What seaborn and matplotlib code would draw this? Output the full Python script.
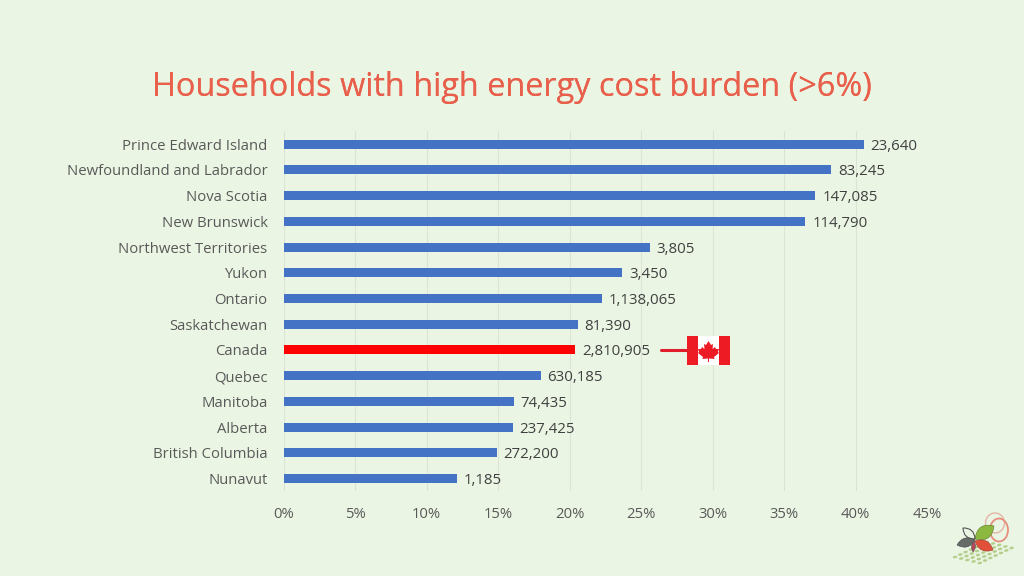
import matplotlib
matplotlib.use("Agg")
import matplotlib.pyplot as plt
from matplotlib.patches import Ellipse, PathPatch, Polygon, Rectangle
from matplotlib.path import Path
import numpy as np
import pandas as pd
import seaborn as sns

provinces = ["Prince Edward Island", "Newfoundland and Labrador", "Nova Scotia", "New Brunswick",
             "Northwest Territories", "Yukon", "Ontario", "Saskatchewan", "Canada", "Quebec",
             "Manitoba", "Alberta", "British Columbia", "Nunavut"]
share = [40.6, 38.3, 37.2, 36.5, 25.6, 23.7, 22.3, 20.6, 20.4, 18.0, 16.1, 16.05, 14.9, 12.1]
households = ["23,640", "83,245", "147,085", "114,790", "3,805", "3,450", "1,138,065", "81,390",
              "2,810,905", "630,185", "74,435", "237,425", "272,200", "1,185"]
xticks = [0, 5, 10, 15, 20, 25, 30, 35, 40, 45]

BG = "#EBF5E4"
W, H = 1024, 576

sns.set_theme(style="white")
plt.rcParams["font.family"] = ["Open Sans", "DejaVu Sans"]

df = pd.DataFrame({"province": provinces, "share": share})
colors = {p: "#FF0000" if p == "Canada" else "#4472C4" for p in provinces}

fig = plt.figure(figsize=(10.24, 5.76), dpi=100, facecolor=BG)
ax = fig.add_axes([283.5 / W, 1 - 491.3 / H, (927 - 283.5) / W, 360 / H], facecolor=BG)

sns.barplot(data=df, y="province", x="share", hue="province", palette=colors,
            width=0.35, legend=False, saturation=1, linewidth=0, ax=ax, zorder=3)

ax.set_xlim(0, 45)
ax.set_xticks(xticks)
ax.set_xticklabels([f"{t}%" for t in xticks])
ax.set_xlabel("")
ax.set_ylabel("")
ax.grid(axis="x", color="#DCE4D6", linewidth=0.8, zorder=0)
ax.grid(axis="y", visible=False)
ax.tick_params(axis="both", length=0, labelcolor="#595959", labelsize=10.7)
ax.tick_params(axis="y", pad=11.5)
ax.tick_params(axis="x", pad=11.5)
sns.despine(ax=ax, left=True, bottom=True, top=True, right=True)

for i, (v, lab) in enumerate(zip(share, households)):
    ax.annotate(lab, (v, i), xytext=(4.8, -1.5), textcoords="offset points", va="center", ha="left",
                fontsize=10.8, color="#404040")

# title, doubled like the slide text
for dx in (0, 0.4):
    fig.text((512 + dx) / W, 1 - 87 / H, "Households with high energy cost burden (>6%)",
             ha="center", va="center", fontsize=23.4, color="#E8604C")


def px(x, y):
    return (x / W, 1 - y / H)


def add(patch):
    patch.set_transform(fig.transFigure)
    fig.add_artist(patch)


# Canada flag and pointer
fig.add_artist(plt.Line2D([661 / W, 688 / W], [1 - 350 / H] * 2, color="#E01E2B", linewidth=2.2))
add(Rectangle(px(687, 365), 43 / W, 29 / H, facecolor="white", edgecolor="none"))
add(Rectangle(px(687, 365), 10.5 / W, 29 / H, facecolor="#ED1C24", edgecolor="none"))
add(Rectangle(px(719, 365), 11 / W, 29 / H, facecolor="#ED1C24", edgecolor="none"))
leaf_pts = [(708.5, 341), (711, 345), (713, 344), (712.5, 349), (715, 347), (716, 349), (719, 349),
            (718, 352), (719, 353), (714, 357), (714.5, 359), (709, 358.5), (709, 362), (708, 362),
            (708, 358.5), (702.5, 359), (703, 357), (698, 353), (699, 352), (698, 349), (701, 349),
            (702, 347), (704.5, 349), (704, 344), (706, 345)]
add(Polygon([px(*p) for p in leaf_pts], facecolor="#ED1C24", edgecolor="none"))

# logo, bottom right, drawn in picture pixels
logo_ax = fig.add_axes([940 / W, 0, 84 / W, 76 / H])
logo_ax.set_xlim(940, 1024)
logo_ax.set_ylim(576, 500)
logo_ax.axis("off")


def leaf(p0, p1, width, face, edge="none", lw=0.6):
    p0, p1 = np.array(p0, float), np.array(p1, float)
    mid = (p0 + p1) / 2
    d = p1 - p0
    n = np.array([-d[1], d[0]]) / np.hypot(*d) * width
    verts = [p0, mid + n, p1, mid - n, p0]
    codes = [Path.MOVETO, Path.CURVE3, Path.CURVE3, Path.CURVE3, Path.CURVE3]
    logo_ax.add_patch(PathPatch(Path(verts, codes), facecolor=face, edgecolor=edge, linewidth=lw))


logo_ax.add_patch(Ellipse((995, 523), 19, 20, facecolor="none", edgecolor="#E3B5A5", linewidth=1.0))
logo_ax.add_patch(Ellipse((999, 530), 18, 23, facecolor="none", edgecolor="#E58E7C", linewidth=1.3))
for r in range(5):
    for k in range(7):
        logo_ax.add_patch(Ellipse((955 + r * 6.2 + k * 5.3, 557 + r * 1.5 - k * 2.5), 4.6, 2.6,
                                  angle=-10, facecolor="#B4CF8C", edgecolor="none"))
leaf((975, 539), (994, 526), 13, "#8DB83F", "#5E7B2C", 0.4)
leaf((975, 539), (963, 528), 8, BG, "#555555", 0.8)
leaf((975, 540), (957, 545), 9, "#666B68", "#444444", 0.4)
leaf((975, 541), (993, 550), 10, "#E2503A", "#9E3A2A", 0.4)
leaf((974, 541), (973, 552), 4, "#B5465C", "#555555", 0.4)

fig.savefig("out.png", dpi=100, facecolor=BG)
